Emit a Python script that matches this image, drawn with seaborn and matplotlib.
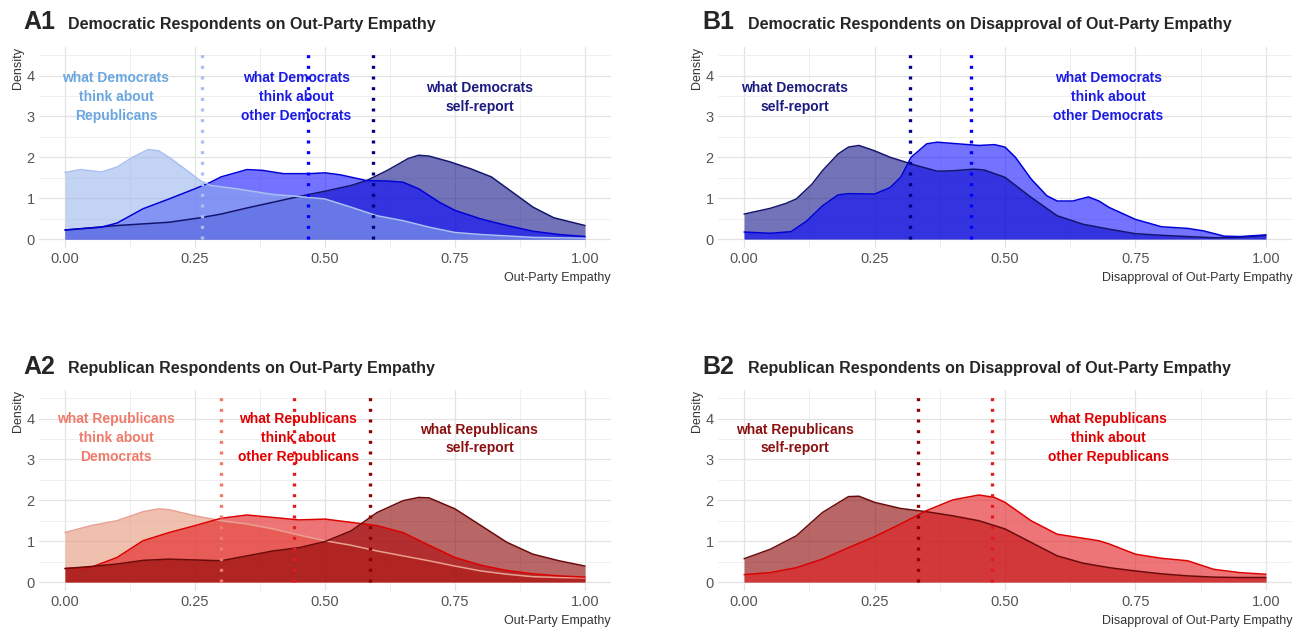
import matplotlib
matplotlib.use("Agg")
import matplotlib.pyplot as plt
import seaborn as sns
from matplotlib.ticker import MultipleLocator

# ---- A1: Democratic respondents, out-party empathy
dem_out_x = [0, .03, .07, .1, .13, .16, .18, .2, .23, .26, .28, .33, .4, .45, .5, .55, .6, .65, .7, .75, .8, .9, 1.0]
dem_out_y = [1.63, 1.70, 1.64, 1.76, 2.0, 2.19, 2.16, 2.0, 1.72, 1.43, 1.31, 1.23, 1.09, 1.04, 0.98, 0.78, 0.57, 0.45, 0.29, 0.16, 0.11, 0.04, 0.02]
dem_in_x = [0, .07, .1, .15, .2, .25, .28, .3, .35, .38, .42, .47, .5, .53, .58, .62, .65, .68, .72, .75, .8, .85, .9, .95, 1.0]
dem_in_y = [0.22, 0.29, 0.39, 0.74, 0.98, 1.23, 1.39, 1.52, 1.7, 1.68, 1.6, 1.6, 1.62, 1.57, 1.43, 1.42, 1.39, 1.23, 0.9, 0.7, 0.49, 0.33, 0.19, 0.11, 0.06]
dem_self_x = [0, .1, .2, .26, .3, .35, .4, .45, .5, .55, .58, .62, .66, .68, .7, .74, .78, .82, .86, .9, .94, 1.0]
dem_self_y = [0.22, 0.33, 0.41, 0.52, 0.61, 0.76, 0.9, 1.04, 1.17, 1.31, 1.43, 1.68, 1.97, 2.05, 2.03, 1.89, 1.72, 1.52, 1.15, 0.78, 0.52, 0.33]
a1_means = [0.263, 0.467, 0.593]

# ---- B1: Democratic respondents, disapproval
dem_self_dis_x = [0, .05, .08, .1, .13, .15, .18, .2, .22, .25, .28, .3, .33, .37, .4, .44, .46, .5, .55, .6, .65, .7, .75, .8, .9, .95, 1.0]
dem_self_dis_y = [0.61, 0.75, 0.87, 0.98, 1.34, 1.67, 2.08, 2.25, 2.29, 2.16, 2.0, 1.92, 1.8, 1.66, 1.67, 1.71, 1.69, 1.51, 1.02, 0.57, 0.36, 0.24, 0.13, 0.09, 0.03, 0.04, 0.09]
dem_in_dis_x = [0, .05, .09, .12, .15, .18, .2, .25, .28, .3, .32, .35, .37, .4, .45, .48, .5, .52, .55, .58, .6, .63, .66, .68, .7, .75, .8, .85, .88, .92, .95, 1.0]
dem_in_dis_y = [0.17, 0.14, 0.18, 0.44, 0.81, 1.08, 1.11, 1.1, 1.26, 1.51, 2.0, 2.33, 2.37, 2.34, 2.29, 2.31, 2.25, 2.0, 1.47, 1.06, 0.93, 0.93, 1.03, 0.93, 0.77, 0.48, 0.3, 0.26, 0.2, 0.07, 0.06, 0.1]
b1_means = [0.318, 0.435]

# ---- A2: Republican respondents, out-party empathy
rep_out_x = [0, .05, .1, .15, .18, .2, .25, .3, .35, .4, .45, .5, .55, .6, .65, .7, .75, .8, .85, .9, .95, 1.0]
rep_out_y = [1.21, 1.38, 1.5, 1.72, 1.79, 1.77, 1.62, 1.5, 1.42, 1.3, 1.15, 1.01, 0.9, 0.76, 0.64, 0.52, 0.39, 0.27, 0.19, 0.13, 0.11, 0.1]
rep_in_x = [0, .05, .1, .15, .2, .25, .3, .35, .4, .45, .5, .55, .6, .65, .7, .75, .8, .85, .9, .95, 1.0]
rep_in_y = [0.33, 0.36, 0.6, 1.01, 1.21, 1.38, 1.56, 1.64, 1.58, 1.52, 1.54, 1.46, 1.38, 1.21, 0.9, 0.6, 0.41, 0.28, 0.2, 0.15, 0.12]
rep_self_x = [0, .05, .1, .15, .2, .25, .3, .35, .4, .45, .5, .55, .6, .65, .68, .7, .75, .8, .85, .9, .95, 1.0]
rep_self_y = [0.33, 0.38, 0.44, 0.53, 0.56, 0.54, 0.52, 0.64, 0.76, 0.84, 0.99, 1.25, 1.7, 1.99, 2.07, 2.06, 1.79, 1.38, 0.97, 0.68, 0.52, 0.39]
a2_means = [0.30, 0.44, 0.587]

# ---- B2: Republican respondents, disapproval
rep_self_dis_x = [0, .05, .1, .15, .2, .22, .25, .3, .35, .4, .45, .5, .55, .6, .65, .7, .75, .8, .85, .9, .95, 1.0]
rep_self_dis_y = [0.57, 0.8, 1.13, 1.7, 2.09, 2.1, 1.95, 1.8, 1.72, 1.62, 1.5, 1.3, 0.97, 0.64, 0.46, 0.35, 0.27, 0.2, 0.15, 0.12, 0.11, 0.11]
rep_in_dis_x = [0, .05, .1, .15, .2, .25, .3, .35, .4, .45, .48, .5, .55, .6, .65, .68, .7, .75, .8, .85, .9, .95, 1.0]
rep_in_dis_y = [0.18, 0.23, 0.35, 0.56, 0.84, 1.11, 1.42, 1.75, 2.01, 2.13, 2.07, 1.95, 1.5, 1.17, 1.07, 1.01, 0.93, 0.68, 0.58, 0.52, 0.31, 0.23, 0.19]
b2_means = [0.334, 0.476]

# colours: fill, line, text
DEM_OUT = ("#93b0eb", "#a9c0f0", "#6aa6e0")
DEM_IN = ("#0000ff", "#0000d8", "#1a1ae6")
DEM_SELF = ("#000080", "#14146e", "#1a1a80")
REP_OUT = ("#e6967b", "#e8a090", "#f07a6a")
REP_IN = ("#e31a1c", "#dd0000", "#e00000")
REP_SELF = ("#8b0000", "#6b0a0a", "#8b1010")

sns.set_theme(style="whitegrid")
plt.rcParams["font.family"] = ["Liberation Sans", "DejaVu Sans"]

fig = plt.figure(figsize=(12.97, 6.29), dpi=100)
W, H = 1297, 629


def panel(rect, curves, means, labels, xlabel):
    ax = fig.add_axes(rect)
    for xs, ys, col, a in curves:
        ax.fill_between(xs, 0, ys, color=col[0], alpha=a, lw=0)
        sns.lineplot(x=xs, y=ys, ax=ax, color=col[1], lw=1.1)
    for m, col in means:
        ax.vlines(m, 0, 4.7, colors=col, linestyles=(0, (0.9, 2.3)), lw=2.4)
    for x, y, txt, col in labels:
        ax.text(x, y, txt, ha="center", va="center", color=col, fontsize=10,
                fontweight="bold", linespacing=1.45)
    ax.set_xlim(-0.05, 1.05)
    ax.set_ylim(-0.22, 4.7)
    ax.set_xticks([0, 0.25, 0.5, 0.75, 1.0])
    ax.set_xticklabels(["0.00", "0.25", "0.50", "0.75", "1.00"])
    ax.set_yticks([0, 1, 2, 3, 4])
    ax.xaxis.set_minor_locator(MultipleLocator(0.125))
    ax.yaxis.set_minor_locator(MultipleLocator(0.5))
    ax.grid(which="major", color="#e3e3e3", lw=0.9)
    ax.grid(which="minor", color="#efefef", lw=0.7)
    ax.set_axisbelow(True)
    for s in ax.spines.values():
        s.set_visible(False)
    ax.tick_params(which="both", length=0, labelsize=10.5, labelcolor="#555555", pad=3)
    ax.set_xlabel(xlabel, loc="right", fontsize=9, color="#333333", labelpad=4)
    ax.set_ylabel("Density", loc="top", fontsize=9, color="#333333", labelpad=2)
    ax.set_facecolor("white")
    return ax


ax_a1 = panel([39 / W, 1 - 248 / H, 572 / W, 201 / H],
              [(dem_self_x, dem_self_y, DEM_SELF, 0.55),
               (dem_in_x, dem_in_y, DEM_IN, 0.55),
               (dem_out_x, dem_out_y, DEM_OUT, 0.55)],
              [(a1_means[0], DEM_OUT[1]), (a1_means[1], DEM_IN[0]), (a1_means[2], DEM_SELF[0])],
              [(0.098, 3.47, "what Democrats\nthink about\nRepublicans", DEM_OUT[2]),
               (0.445, 3.47, "what Democrats\nthink about\nother Democrats", DEM_IN[2]),
               (0.797, 3.47, "what Democrats\nself-report", DEM_SELF[2])],
              "Out-Party Empathy")

ax_b1 = panel([718 / W, 1 - 248 / H, 574 / W, 201 / H],
              [(dem_self_dis_x, dem_self_dis_y, DEM_SELF, 0.55),
               (dem_in_dis_x, dem_in_dis_y, DEM_IN, 0.55)],
              [(b1_means[0], DEM_SELF[0]), (b1_means[1], DEM_IN[0])],
              [(0.097, 3.47, "what Democrats\nself-report", DEM_SELF[2]),
               (0.698, 3.47, "what Democrats\nthink about\nother Democrats", DEM_IN[2])],
              "Disapproval of Out-Party Empathy")

ax_a2 = panel([39 / W, 1 - 591 / H, 572 / W, 201 / H],
              [(rep_out_x, rep_out_y, REP_OUT, 0.6),
               (rep_in_x, rep_in_y, REP_IN, 0.6),
               (rep_self_x, rep_self_y, REP_SELF, 0.6)],
              [(a2_means[0], REP_OUT[2]), (a2_means[1], REP_IN[0]), (a2_means[2], REP_SELF[0])],
              [(0.098, 3.53, "what Republicans\nthink about\nDemocrats", REP_OUT[2]),
               (0.449, 3.53, "what Republicans\nthink about\nother Republicans", REP_IN[2]),
               (0.797, 3.5, "what Republicans\nself-report", REP_SELF[2])],
              "Out-Party Empathy")

ax_b2 = panel([718 / W, 1 - 591 / H, 574 / W, 201 / H],
              [(rep_self_dis_x, rep_self_dis_y, REP_SELF, 0.6),
               (rep_in_dis_x, rep_in_dis_y, REP_IN, 0.6)],
              [(b2_means[0], REP_SELF[0]), (b2_means[1], REP_IN[0])],
              [(0.097, 3.5, "what Republicans\nself-report", REP_SELF[2]),
               (0.698, 3.53, "what Republicans\nthink about\nother Republicans", REP_IN[2])],
              "Disapproval of Out-Party Empathy")

# panel tags and titles
for tag, tx, ttl, ttx, ty in [("A1", 23, "Democratic Respondents on Out-Party Empathy", 68, 22),
                              ("B1", 702, "Democratic Respondents on Disapproval of Out-Party Empathy", 748, 22),
                              ("A2", 23, "Republican Respondents on Out-Party Empathy", 68, 367),
                              ("B2", 702, "Republican Respondents on Disapproval of Out-Party Empathy", 748, 367)]:
    fig.text(tx / W, 1 - ty / H, tag, fontsize=18, fontweight="bold", va="center", ha="left")
    fig.text(ttx / W, 1 - (ty + 2) / H, ttl, fontsize=11.5, fontweight="bold", va="center", ha="left")

fig.savefig("out.png", dpi=100, facecolor="white")
